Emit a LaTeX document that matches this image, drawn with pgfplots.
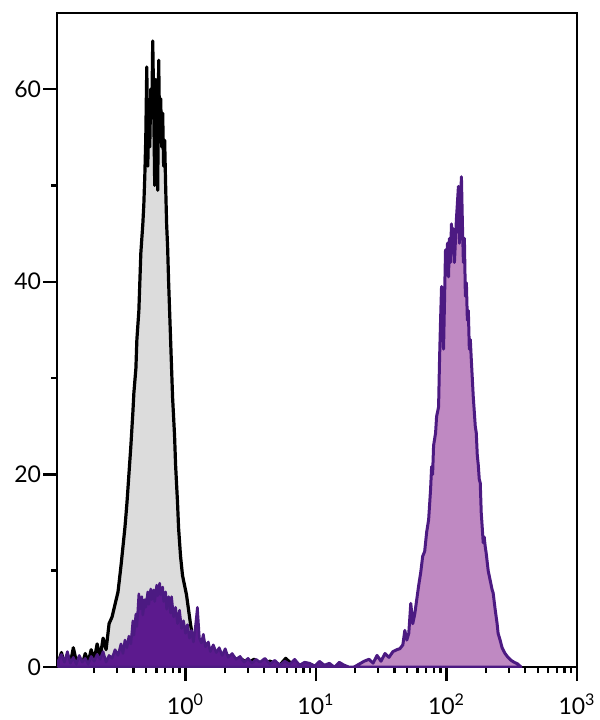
\documentclass[border=0pt]{standalone}
\usepackage{fontspec}
\setmainfont{Lato}
\usepackage{pgfplots}
\pgfplotsset{compat=1.18}

\definecolor{ctrlfill}{RGB}{220,220,220}
\definecolor{purpline}{RGB}{76,26,130}
\definecolor{purpdark}{RGB}{92,26,142}
\definecolor{purplight}{RGB}{191,137,194}

\begin{document}
\begin{tikzpicture}
\path[use as bounding box] (-28.5pt,-26.5pt) rectangle (271.5pt,333.5pt);
\begin{axis}[
    width=260pt, height=327pt, scale only axis,
    xmode=log,
    xmin=0.1036, xmax=1000,
    ymin=0, ymax=67.9,
    axis line style={line width=1.4pt},
    tick align=outside,
    xtick pos=left, ytick pos=left,
    xtick={1,10,100,1000},
    xticklabels={10\textsuperscript{0},10\textsuperscript{1},10\textsuperscript{2},10\textsuperscript{3}},
    minor xtick={0.2,0.3,0.4,0.5,0.6,0.7,0.8,0.9,2,3,4,5,6,7,8,9,20,30,40,50,60,70,80,90,200,300,400,500,600,700,800,900},
    ytick={0,20,40,60},
    minor ytick={10,30,50},
    major tick length=7pt,
    minor tick length=3pt,
    every tick/.style={black, line width=1.2pt},
    tick label style={font=\fontsize{11.5}{13}\selectfont},
    xticklabel style={yshift=-3pt},
    yticklabel style={xshift=2.5pt},
    /pgf/number format/assume math mode=true,
]

% unstained control
\addplot[draw=black, line width=1.6pt, line join=round, fill=ctrlfill] coordinates {
(0.1063,0.5)(0.1121,1.5)(0.1181,0.3)(0.1245,1.2)(0.1312,0.4)(0.1382,2.0)
(0.1457,0.6)(0.1535,1.0)(0.1618,0.2)(0.1705,1.4)(0.1797,0.5)(0.1894,1.8)
(0.1996,0.7)(0.2103,2.4)(0.2218,1.0)(0.2337,3.0)(0.2463,1.8)(0.2597,4.5)
(0.2737,5.2)(0.2884,6.5)(0.3040,7.8)(0.3204,10.5)(0.3318,12.5)(0.3436,14.5)
(0.3558,17.0)(0.3685,20.0)(0.3816,23.0)(0.3954,26.5)(0.4024,28.5)(0.4168,31.0)
(0.4241,34.0)(0.4392,37.0)(0.4469,40.0)(0.4548,43.0)(0.4710,46.0)(0.4793,48.0)
(0.4878,51.0)(0.4963,55.0)(0.5051,62.3)(0.5140,52.0)(0.5231,58.0)(0.5323,54.0)
(0.5417,60.0)(0.5513,57.0)(0.5610,65.0)(0.5710,58.0)(0.5810,50.0)(0.5913,61.0)
(0.6017,56.0)(0.6124,49.5)(0.6232,63.0)(0.6342,55.0)(0.6453,59.0)(0.6568,54.0)
(0.6684,57.5)(0.6802,52.0)(0.6922,54.7)(0.7044,50.0)(0.7168,46.0)(0.7295,43.6)
(0.7424,40.0)(0.7555,37.0)(0.7688,34.0)(0.7824,31.0)(0.7962,28.0)(0.8103,26.0)
(0.8246,24.0)(0.8394,21.0)(0.8542,19.0)(0.8693,17.0)(0.8846,14.5)(0.9003,13.0)
(0.9162,11.5)(0.9489,9.5)(0.9827,8.5)(1.0177,7.5)(1.0539,6.0)(1.0914,4.5)
(1.1303,3.2)(1.1912,2.5)(1.2556,2.0)(1.3004,2.6)(1.3706,1.5)(1.4445,2.4)
(1.5494,1.5)(1.6616,1.0)(1.7824,1.4)(1.9114,0.8)(2.1232,1.2)(2.3583,0.5)
(2.6197,0.9)(3.0137,0.4)(3.3476,0.8)(3.8513,0.3)(4.4311,0.6)(5.2795,0.2)
(5.8643,0.9)(6.5130,0.3)(7.4904,0.2)(8.9233,0.3)(10.266,0)
} \closedcycle;

% stained sample, low population
\addplot[draw=purpline, line width=1.3pt, line join=round, fill=purpdark] coordinates {
(0.1063,0.7)(0.1121,1.3)(0.1181,0.5)(0.1245,1.6)(0.1312,0.4)(0.1382,1.0)
(0.1457,0.3)(0.1535,1.2)(0.1618,0.5)(0.1705,0.9)(0.1797,0.3)(0.1894,1.1)
(0.1996,0.6)(0.2103,1.3)(0.2218,0.8)(0.2337,1.6)(0.2463,0.5)(0.2597,1.2)
(0.2737,0.9)(0.2884,1.8)(0.3040,1.2)(0.3204,2.4)(0.3318,1.4)(0.3436,2.8)
(0.3558,2.0)(0.3685,3.2)(0.3816,2.4)(0.3954,4.8)(0.4024,3.3)(0.4168,5.5)
(0.4241,4.2)(0.4392,7.6)(0.4469,6.0)(0.4629,7.3)(0.4710,5.4)(0.4878,7.0)
(0.4963,6.2)(0.5140,7.8)(0.5231,6.5)(0.5417,8.1)(0.5513,7.0)(0.5710,8.0)
(0.5810,6.8)(0.6017,8.5)(0.6124,7.4)(0.6342,8.7)(0.6453,7.5)(0.6684,8.3)
(0.6802,6.8)(0.7044,7.8)(0.7168,6.0)(0.7424,7.3)(0.7688,5.6)(0.7824,7.3)
(0.8103,5.2)(0.8394,6.2)(0.8693,4.5)(0.9003,5.9)(0.9324,4.0)(0.9656,4.8)
(1.0000,3.5)(1.0356,4.4)(1.0725,3.0)(1.1107,3.8)(1.1503,2.6)(1.1912,4.2)
(1.2339,6.2)(1.2779,3.0)(1.3234,2.5)(1.3706,3.4)(1.4194,2.1)(1.4960,2.6)
(1.5494,1.6)(1.6328,2.3)(1.7208,1.5)(1.8139,2.0)(1.9114,1.2)(2.0145,1.9)
(2.1232,1.0)(2.2771,1.4)(2.4424,0.8)(2.6197,1.1)(2.8099,0.5)(3.0137,0.9)
(3.2323,0.4)(3.4670,0.8)(3.7184,0.5)(4.0590,0.9)(4.4311,0.3)(4.8362,0.7)
(5.2795,0.2)(5.7625,0.6)(6.2894,0.3)(6.8640,0.8)(7.4904,0.2)(8.1752,0.5)
(8.9233,0.4)(9.7410,0.1)(10.632,0.6)(11.604,0.2)(12.666,0.4)(13.823,0.0)
(15.090,0.5)(16.472,0.2)(17.980,0.0)(19.626,0.0)
} \closedcycle;

% stained sample, positive population
\addplot[draw=purpline, line width=1.5pt, line join=round, fill=purplight] coordinates {
(19.626,0.0)(21.42,0.3)(23.38,0.6)(25.51,0.8)(27.37,0.4)(29.36,1.2)
(31.49,0.6)(33.78,1.4)(36.23,1.0)(38.86,1.6)(41.68,1.8)(43.92,1.9)
(46.29,2.3)(47.93,3.8)(49.63,2.8)(51.40,3.5)(53.23,6.6)(55.12,4.5)
(57.11,5.5)(59.14,7.0)(61.25,8.5)(63.43,9.8)(65.69,11.5)(68.03,12.0)
(70.45,14.0)(72.96,15.3)(75.55,18.5)(76.89,20.8)(78.24,20.0)(79.62,23.0)
(82.46,24.3)(83.95,26.0)(86.94,27.0)(88.47,32.0)(90.04,36.0)(91.63,39.5)
(93.24,37.0)(94.89,33.0)(96.56,38.0)(98.26,43.3)(100.0,41.0)(101.8,44.0)
(103.6,40.5)(105.4,44.5)(107.3,42.0)(109.1,46.0)(111.1,43.0)(113.0,45.5)
(115.0,42.0)(119.1,46.5)(123.4,49.9)(125.6,44.0)(127.8,48.0)(130.1,50.9)
(132.4,46.0)(134.7,42.0)(137.1,44.5)(139.5,38.5)(142.0,39.9)(144.5,36.0)
(147.0,37.0)(149.6,33.0)(152.2,34.0)(154.9,31.9)(157.6,30.0)(160.4,28.0)
(163.3,26.5)(166.1,25.0)(169.1,24.3)(172.1,22.0)(175.1,21.0)(178.2,19.5)
(181.4,19.1)(184.6,16.0)(187.8,14.5)(191.1,12.9)(194.5,13.5)(198.0,12.5)
(201.5,11.8)(208.6,10.0)(216.1,9.0)(223.8,8.0)(227.7,7.7)(235.8,6.0)
(244.2,4.5)(248.5,3.5)(257.4,2.8)(266.7,2.0)(281.0,1.4)(296.1,1.0)
(312.1,0.7)(328.9,0.5)(352.7,0.3)(371.7,0.0)
} \closedcycle;

\end{axis}
\end{tikzpicture}
\end{document}
